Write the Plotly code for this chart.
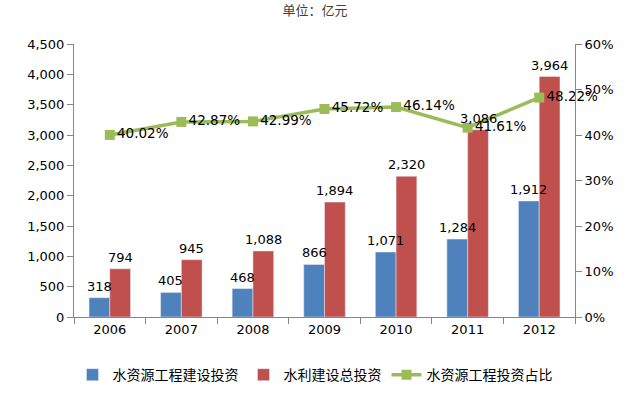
import plotly.graph_objects as go

years = ["2006", "2007", "2008", "2009", "2010", "2011", "2012"]
water_resource = [318, 405, 468, 866, 1071, 1284, 1912]
water_total = [794, 945, 1088, 1894, 2320, 3086, 3964]
ratio = [40.02, 42.87, 42.99, 45.72, 46.14, 41.61, 48.22]

num_font = dict(family="DejaVu Sans, Verdana, sans-serif", size=13, color="#000000")
cjk = "Noto Sans CJK SC, sans-serif"

W, H = 630, 397
ML, MR, MT, MB = 74, 55, 44, 80
BARGAP = 0.42
cat_w = (W - ML - MR) / len(years)
bar_w = cat_w * (1 - BARGAP) / 2

fig = go.Figure()
fig.add_trace(go.Bar(
    x=years, y=water_resource, name="水资源工程建设投资",
    marker=dict(color="#4F81BD"),
))
fig.add_trace(go.Bar(
    x=years, y=water_total, name="水利建设总投资",
    marker=dict(color="#C0504D"),
))
fig.add_trace(go.Scatter(
    x=years, y=ratio, name="水资源工程投资占比", yaxis="y2",
    mode="lines+markers+text",
    line=dict(color="#9BBB59", width=3.5),
    marker=dict(symbol="square", size=10, color="#9BBB59"),
    text=[f"{v:.2f}%" for v in ratio], textposition="middle right",
    textfont=dict(family="DejaVu Sans, Verdana, sans-serif", size=13.5, color="#000000"),
    cliponaxis=False,
))

annotations = []
for series, shift in ((water_resource, -bar_w / 2), (water_total, bar_w / 2)):
    for i, v in enumerate(series):
        annotations.append(dict(
            x=i, y=v, xref="x", yref="y", text=f"{v:,}", showarrow=False,
            xanchor="center", yanchor="bottom", xshift=shift, yshift=2,
            font=num_font,
        ))

fig.update_layout(
    width=W, height=H,
    margin=dict(l=ML, r=MR, t=MT, b=MB, autoexpand=False),
    paper_bgcolor="white", plot_bgcolor="white",
    barmode="group", bargap=BARGAP, bargroupgap=0,
    annotations=annotations,
    title=dict(text="单位：亿元", x=0.5, xanchor="center", y=0.985, yanchor="top",
               font=dict(family=cjk, size=13, color="#404040")),
    xaxis=dict(
        type="category", categoryorder="array", categoryarray=years,
        range=[-0.5, len(years) - 0.5],
        showline=True, linecolor="#868686", linewidth=1,
        ticks="outside", tickson="boundaries", ticklen=6, tickcolor="#868686",
        tickfont=num_font, showgrid=False,
    ),
    yaxis=dict(
        range=[0, 4500], dtick=500, tickformat=",d",
        showline=True, linecolor="#868686", linewidth=1,
        ticks="outside", ticklen=6, tickcolor="#868686",
        tickfont=num_font, showgrid=False, zeroline=False,
    ),
    yaxis2=dict(
        range=[0, 60], dtick=10, ticksuffix="%", overlaying="y", side="right",
        showline=True, linecolor="#868686", linewidth=1,
        ticks="outside", ticklen=6, tickcolor="#868686",
        tickfont=num_font, showgrid=False, zeroline=False,
    ),
    legend=dict(
        orientation="h", xref="container", yref="container",
        x=0.5, xanchor="center", y=0.015, yanchor="bottom",
        font=dict(family=cjk, size=14, color="#000000"),
        traceorder="normal", itemwidth=30, tracegroupgap=0,
    ),
    showlegend=True,
)

fig.write_html("out.html", config={"displayModeBar": False},
               post_script="document.body.style.margin='0';document.body.style.overflow='hidden';")
